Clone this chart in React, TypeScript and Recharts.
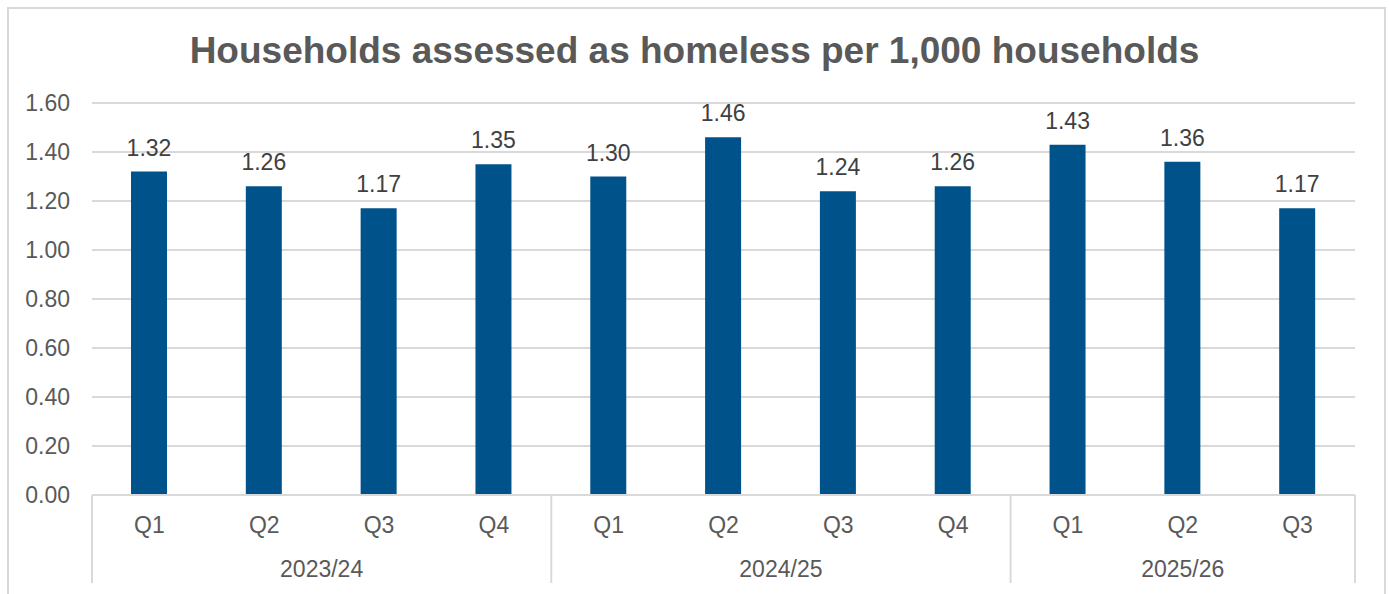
import * as React from "react"
import { BarChart, Bar, XAxis, YAxis, CartesianGrid, LabelList } from "recharts"

const years = ["2023/24", "2024/25", "2025/26"]
const quartersPerYear = [4, 4, 3]
const quarters = ["Q1", "Q2", "Q3", "Q4", "Q1", "Q2", "Q3", "Q4", "Q1", "Q2", "Q3"]
const rates = [1.32, 1.26, 1.17, 1.35, 1.3, 1.46, 1.24, 1.26, 1.43, 1.36, 1.17]
const yTicks = [0, 0.2, 0.4, 0.6, 0.8, 1.0, 1.2, 1.4, 1.6]

const yearOf: string[] = []
const groupStart: Record<number, number> = {}
years.forEach((y, g) => {
  groupStart[yearOf.length] = quartersPerYear[g]
  for (let i = 0; i < quartersPerYear[g]; i++) yearOf.push(y)
})

const data = quarters.map((q, i) => ({ q, year: yearOf[i], rate: rates[i] }))

const FONT = "'Liberation Sans', Arial, sans-serif"
const GRID = "#D9D9D9"
const TEXT = "#595959"
const FS = 23

const W = 1389
const H = 594
const PLOT_LEFT = 92
const PLOT_RIGHT = 1355
const BAND = (PLOT_RIGHT - PLOT_LEFT) / data.length

function YearTick(props: any) {
  const { x, y, index } = props
  const parts: React.ReactNode[] = []
  const count = groupStart[index]
  if (count !== undefined) {
    const left = x - BAND / 2
    parts.push(<line key="l" x1={left} x2={left} y1={y - 50} y2={y + 38} stroke={GRID} strokeWidth={2} />)
    parts.push(
      <text key="t" x={x + ((count - 1) / 2) * BAND} y={y + 32} textAnchor="middle" fill={TEXT} fontSize={FS} fontFamily={FONT}>
        {data[index].year}
      </text>
    )
  }
  if (index === data.length - 1) {
    const right = x + BAND / 2
    parts.push(<line key="r" x1={right} x2={right} y1={y - 50} y2={y + 38} stroke={GRID} strokeWidth={2} />)
  }
  return <g>{parts}</g>
}

export default function App() {
  return (
    <div style={{ position: "absolute", left: 0, top: 0, width: W, height: H, overflow: "hidden", background: "#fff", fontFamily: FONT }}>
      <div
        style={{
          position: "absolute",
          left: 7,
          top: 7,
          width: 1375,
          height: 620,
          border: `2px solid ${GRID}`,
        }}
      />
      <div
        style={{
          position: "absolute",
          left: 0,
          top: 32,
          width: W,
          textAlign: "center",
          fontSize: 37,
          lineHeight: "37px",
          fontWeight: "bold",
          color: TEXT,
        }}
      >
        Households assessed as homeless per 1,000 households
      </div>
      <div style={{ position: "absolute", left: 0, top: 0 }}>
        <BarChart width={W} height={H} data={data} margin={{ top: 103, right: W - PLOT_RIGHT, bottom: 0, left: 0 }}>
          <CartesianGrid vertical={false} stroke={GRID} strokeWidth={2} />
          <YAxis
            width={PLOT_LEFT}
            domain={[0, 1.6]}
            ticks={yTicks}
            axisLine={false}
            tickLine={false}
            tickMargin={22}
            tickSize={0}
            tick={{ fill: TEXT, fontSize: FS, fontFamily: FONT }}
            tickFormatter={(v: number) => v.toFixed(2)}
          />
          <XAxis
            xAxisId={0}
            dataKey="q"
            height={50}
            interval={0}
            axisLine={{ stroke: GRID, strokeWidth: 2 }}
            tickLine={false}
            tickSize={0}
            tickMargin={22}
            tick={{ fill: TEXT, fontSize: FS, fontFamily: FONT }}
          />
          <XAxis
            xAxisId="year"
            dataKey="year"
            height={49}
            interval={0}
            axisLine={false}
            tickLine={false}
            tickSize={0}
            tickMargin={0}
            tick={<YearTick />}
          />
          <Bar xAxisId={0} dataKey="rate" fill="#00538A" barSize={36} isAnimationActive={false}>
            <LabelList
              dataKey="rate"
              position="top"
              offset={16}
              fill="#404040"
              fontSize={FS}
              fontFamily={FONT}
              formatter={(v: any) => Number(v).toFixed(2)}
            />
          </Bar>
        </BarChart>
      </div>
    </div>
  )
}
